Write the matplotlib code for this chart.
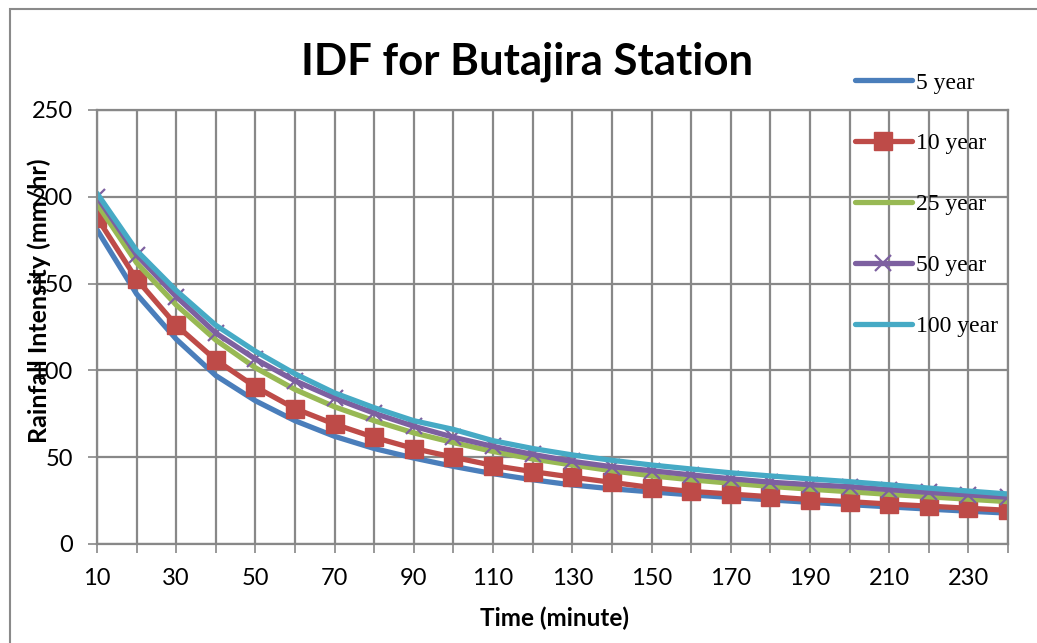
import matplotlib
matplotlib.use("Agg")
import matplotlib.pyplot as plt
from matplotlib.patches import Rectangle
import numpy as np

plt.rcParams['font.family'] = ['Lato', 'DejaVu Sans']

# duration (minute)
time_min = list(range(10, 250, 10))

# rainfall intensity (mm/hr) per return period
yr5 = [181, 144, 118, 97, 82.5, 71, 62, 55, 49.5, 44.7, 40.5, 37, 34, 31.8,
       30, 28.3, 26.8, 25.4, 24, 22.7, 21.4, 20.1, 18.9, 17.8]
yr10 = [188, 152.5, 126, 106, 90.5, 78, 69, 61.4, 55, 50, 45.2, 41.7, 38.5, 35.5,
        32.5, 30.3, 28.8, 27.2, 25.6, 24.4, 23, 21.8, 20.6, 19.4]
yr25 = [196, 162, 137.7, 117.5, 101.5, 89, 79, 71, 64, 58.4, 53.3, 49, 45.5, 42.2,
        39.3, 37, 35, 33.2, 31.6, 30.1, 28.6, 27.2, 25.8, 24.4]
yr50 = [200, 166.5, 142.5, 121.5, 106.5, 94, 84, 75.3, 67.8, 61.5, 56.2, 51.6, 47.6, 44.5,
        42.2, 39.8, 37.6, 35.6, 34.2, 33, 31.3, 29.7, 28.3, 26.9]
yr100 = [202, 169, 146, 126, 111, 98, 87, 78.5, 71, 66, 59.5, 55, 51.3, 48.2,
         45.5, 43.2, 41, 39.2, 37.5, 35.9, 34.1, 32.2, 30.5, 28.8]

labels = ["5 year", "10 year", "25 year", "50 year", "100 year"]
y_ticks = [0, 50, 100, 150, 200, 250]

grid_col = "#888888"

fig = plt.figure(figsize=(10.37, 6.43), dpi=100)
ax = fig.add_axes([97/1037, 1-544/643, 911/1037, 434/643])

# outer chart border (cut off on the right and bottom)
fig.patches.append(Rectangle((10/1037, -0.2), 1.2, 1.2 - 9/643, transform=fig.transFigure,
                             fill=False, edgecolor="#8a8a8a", linewidth=1.5, clip_on=False))

lw = 3.8
ax.plot(time_min, yr5, color="#4A7EBB", lw=lw, solid_capstyle="round", label=labels[0])
ax.plot(time_min, yr10, color="#BE4B48", lw=lw, solid_capstyle="round",
        marker="s", markersize=13.5, markerfacecolor="#BE4B48", markeredgecolor="#BE4B48",
        label=labels[1])
ax.plot(time_min, yr25, color="#98B954", lw=lw, solid_capstyle="round", label=labels[2])
ax.plot(time_min, yr50, color="#7D60A0", lw=lw, solid_capstyle="round",
        marker="x", markersize=11, markeredgewidth=1.6, label=labels[3])
ax.plot(time_min, yr100, color="#46AAC5", lw=lw, solid_capstyle="round", label=labels[4])

ax.set_xlim(10, 240)
ax.set_ylim(0, 250)
ax.set_xticks(time_min)
ax.set_xticklabels([str(t) if (t - 10) % 20 == 0 else "" for t in time_min])
ax.set_yticks(y_ticks)
ax.grid(True, color=grid_col, linewidth=1.6)
ax.set_axisbelow(True)
for s in ax.spines.values():
    s.set_color(grid_col)
    s.set_linewidth(1.6)
ax.tick_params(axis="both", labelsize=17, color=grid_col, width=1.2, length=6.5)
ax.tick_params(axis="x", pad=11)
ax.tick_params(axis="y", pad=11)

ax.set_xlabel("Time (minute)", fontsize=17.5, fontweight="bold")
ax.xaxis.set_label_coords(0.502, -0.143)
ax.set_ylabel("Rainfall Intensity (mm/hr)", fontsize=18, fontweight="bold")
ax.yaxis.set_label_coords(-0.05, 0.56)

fig.text(527/1037, 1-62/643, "IDF for Butajira Station", fontsize=31.5, fontweight="bold",
         ha="center", va="center")

fig.legend(loc="upper left", bbox_to_anchor=(855/1037, 1-72/643), frameon=False,
           prop={"family": "Liberation Serif", "size": 17}, borderpad=0, borderaxespad=0,
           handlelength=2.4, handletextpad=0.2, labelspacing=1.67)

fig.savefig("out.png", dpi=100)
